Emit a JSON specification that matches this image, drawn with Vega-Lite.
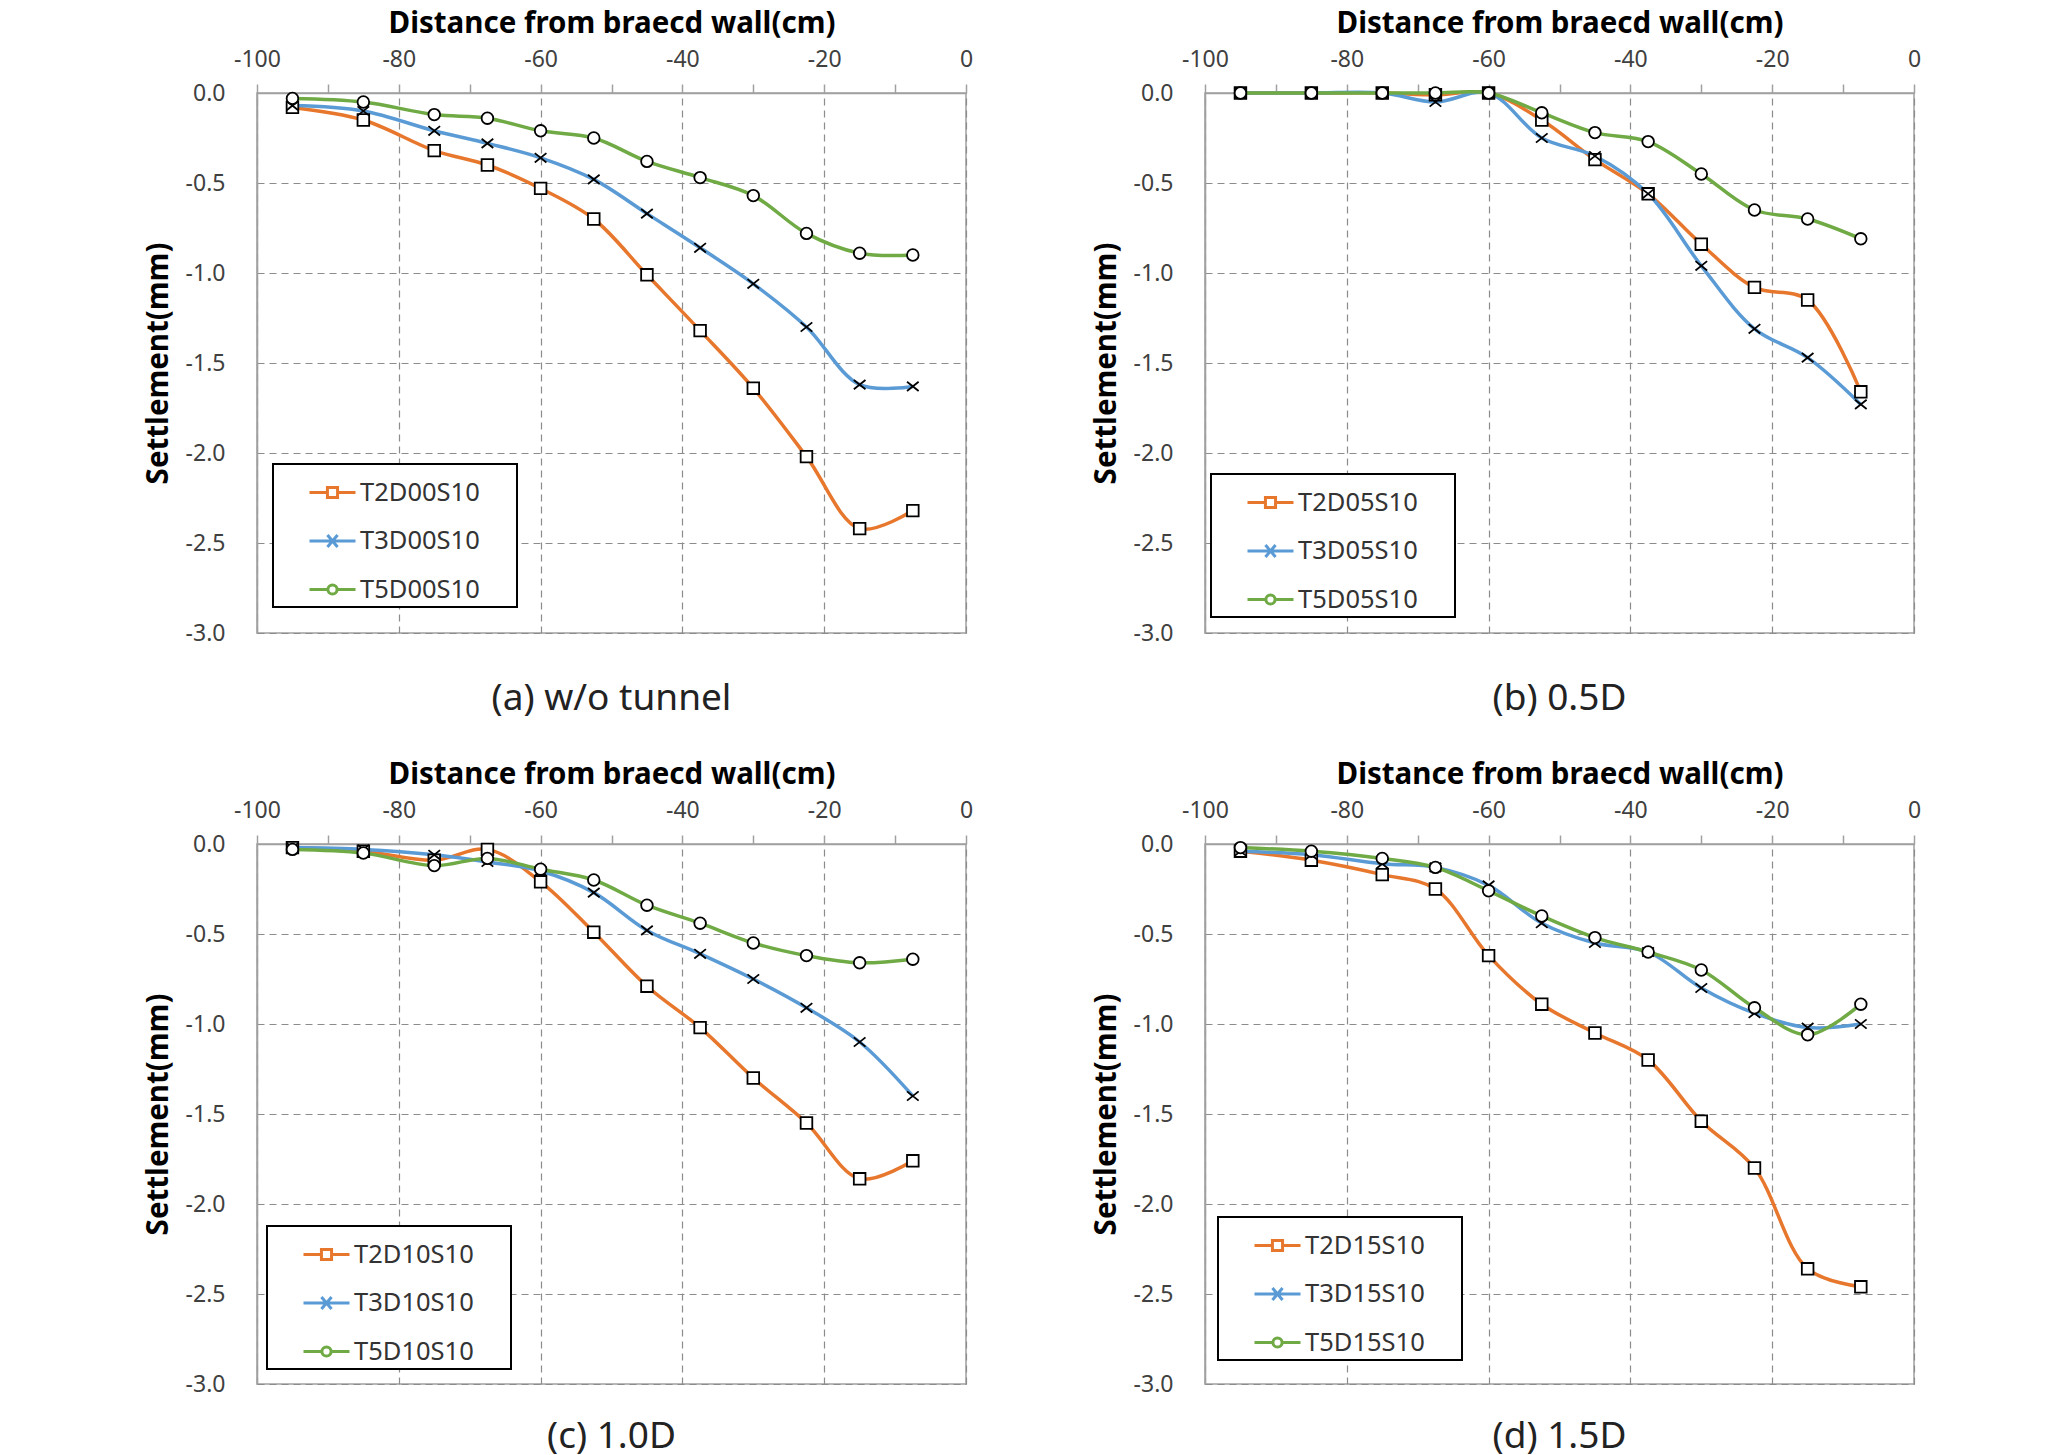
{
  "$schema": "https://vega.github.io/schema/vega-lite/v6.json",
  "padding": {"left": 142, "top": 7, "right": 5, "bottom": 5},
  "bounds": "flush",
  "columns": 2,
  "spacing": {"row": 211, "column": 239},
  "datasets": {
    "a": [
      {"Series": "T2D00S10", "Distance": -95, "Settlement": -0.08},
      {"Series": "T2D00S10", "Distance": -85, "Settlement": -0.15},
      {"Series": "T2D00S10", "Distance": -75, "Settlement": -0.32},
      {"Series": "T2D00S10", "Distance": -67.5, "Settlement": -0.40},
      {"Series": "T2D00S10", "Distance": -60, "Settlement": -0.53},
      {"Series": "T2D00S10", "Distance": -52.5, "Settlement": -0.70},
      {"Series": "T2D00S10", "Distance": -45, "Settlement": -1.01},
      {"Series": "T2D00S10", "Distance": -37.5, "Settlement": -1.32},
      {"Series": "T2D00S10", "Distance": -30, "Settlement": -1.64},
      {"Series": "T2D00S10", "Distance": -22.5, "Settlement": -2.02},
      {"Series": "T2D00S10", "Distance": -15, "Settlement": -2.42},
      {"Series": "T2D00S10", "Distance": -7.5, "Settlement": -2.32},
      {"Series": "T3D00S10", "Distance": -95, "Settlement": -0.07},
      {"Series": "T3D00S10", "Distance": -85, "Settlement": -0.10},
      {"Series": "T3D00S10", "Distance": -75, "Settlement": -0.21},
      {"Series": "T3D00S10", "Distance": -67.5, "Settlement": -0.28},
      {"Series": "T3D00S10", "Distance": -60, "Settlement": -0.36},
      {"Series": "T3D00S10", "Distance": -52.5, "Settlement": -0.48},
      {"Series": "T3D00S10", "Distance": -45, "Settlement": -0.67},
      {"Series": "T3D00S10", "Distance": -37.5, "Settlement": -0.86},
      {"Series": "T3D00S10", "Distance": -30, "Settlement": -1.06},
      {"Series": "T3D00S10", "Distance": -22.5, "Settlement": -1.30},
      {"Series": "T3D00S10", "Distance": -15, "Settlement": -1.62},
      {"Series": "T3D00S10", "Distance": -7.5, "Settlement": -1.63},
      {"Series": "T5D00S10", "Distance": -95, "Settlement": -0.03},
      {"Series": "T5D00S10", "Distance": -85, "Settlement": -0.05},
      {"Series": "T5D00S10", "Distance": -75, "Settlement": -0.12},
      {"Series": "T5D00S10", "Distance": -67.5, "Settlement": -0.14},
      {"Series": "T5D00S10", "Distance": -60, "Settlement": -0.21},
      {"Series": "T5D00S10", "Distance": -52.5, "Settlement": -0.25},
      {"Series": "T5D00S10", "Distance": -45, "Settlement": -0.38},
      {"Series": "T5D00S10", "Distance": -37.5, "Settlement": -0.47},
      {"Series": "T5D00S10", "Distance": -30, "Settlement": -0.57},
      {"Series": "T5D00S10", "Distance": -22.5, "Settlement": -0.78},
      {"Series": "T5D00S10", "Distance": -15, "Settlement": -0.89},
      {"Series": "T5D00S10", "Distance": -7.5, "Settlement": -0.90}
    ],
    "b": [
      {"Series": "T2D05S10", "Distance": -95, "Settlement": 0},
      {"Series": "T2D05S10", "Distance": -85, "Settlement": 0},
      {"Series": "T2D05S10", "Distance": -75, "Settlement": 0},
      {"Series": "T2D05S10", "Distance": -67.5, "Settlement": -0.01},
      {"Series": "T2D05S10", "Distance": -60, "Settlement": 0},
      {"Series": "T2D05S10", "Distance": -52.5, "Settlement": -0.15},
      {"Series": "T2D05S10", "Distance": -45, "Settlement": -0.37},
      {"Series": "T2D05S10", "Distance": -37.5, "Settlement": -0.56},
      {"Series": "T2D05S10", "Distance": -30, "Settlement": -0.84},
      {"Series": "T2D05S10", "Distance": -22.5, "Settlement": -1.08},
      {"Series": "T2D05S10", "Distance": -15, "Settlement": -1.15},
      {"Series": "T2D05S10", "Distance": -7.5, "Settlement": -1.66},
      {"Series": "T3D05S10", "Distance": -95, "Settlement": 0},
      {"Series": "T3D05S10", "Distance": -85, "Settlement": 0},
      {"Series": "T3D05S10", "Distance": -75, "Settlement": 0},
      {"Series": "T3D05S10", "Distance": -67.5, "Settlement": -0.05},
      {"Series": "T3D05S10", "Distance": -60, "Settlement": 0},
      {"Series": "T3D05S10", "Distance": -52.5, "Settlement": -0.25},
      {"Series": "T3D05S10", "Distance": -45, "Settlement": -0.35},
      {"Series": "T3D05S10", "Distance": -37.5, "Settlement": -0.56},
      {"Series": "T3D05S10", "Distance": -30, "Settlement": -0.96},
      {"Series": "T3D05S10", "Distance": -22.5, "Settlement": -1.31},
      {"Series": "T3D05S10", "Distance": -15, "Settlement": -1.47},
      {"Series": "T3D05S10", "Distance": -7.5, "Settlement": -1.73},
      {"Series": "T5D05S10", "Distance": -95, "Settlement": 0},
      {"Series": "T5D05S10", "Distance": -85, "Settlement": 0},
      {"Series": "T5D05S10", "Distance": -75, "Settlement": 0},
      {"Series": "T5D05S10", "Distance": -67.5, "Settlement": 0},
      {"Series": "T5D05S10", "Distance": -60, "Settlement": 0},
      {"Series": "T5D05S10", "Distance": -52.5, "Settlement": -0.11},
      {"Series": "T5D05S10", "Distance": -45, "Settlement": -0.22},
      {"Series": "T5D05S10", "Distance": -37.5, "Settlement": -0.27},
      {"Series": "T5D05S10", "Distance": -30, "Settlement": -0.45},
      {"Series": "T5D05S10", "Distance": -22.5, "Settlement": -0.65},
      {"Series": "T5D05S10", "Distance": -15, "Settlement": -0.70},
      {"Series": "T5D05S10", "Distance": -7.5, "Settlement": -0.81}
    ],
    "c": [
      {"Series": "T2D10S10", "Distance": -95, "Settlement": -0.02},
      {"Series": "T2D10S10", "Distance": -85, "Settlement": -0.04},
      {"Series": "T2D10S10", "Distance": -75, "Settlement": -0.09},
      {"Series": "T2D10S10", "Distance": -67.5, "Settlement": -0.03},
      {"Series": "T2D10S10", "Distance": -60, "Settlement": -0.21},
      {"Series": "T2D10S10", "Distance": -52.5, "Settlement": -0.49},
      {"Series": "T2D10S10", "Distance": -45, "Settlement": -0.79},
      {"Series": "T2D10S10", "Distance": -37.5, "Settlement": -1.02},
      {"Series": "T2D10S10", "Distance": -30, "Settlement": -1.30},
      {"Series": "T2D10S10", "Distance": -22.5, "Settlement": -1.55},
      {"Series": "T2D10S10", "Distance": -15, "Settlement": -1.86},
      {"Series": "T2D10S10", "Distance": -7.5, "Settlement": -1.76},
      {"Series": "T3D10S10", "Distance": -95, "Settlement": -0.02},
      {"Series": "T3D10S10", "Distance": -85, "Settlement": -0.03},
      {"Series": "T3D10S10", "Distance": -75, "Settlement": -0.06},
      {"Series": "T3D10S10", "Distance": -67.5, "Settlement": -0.10},
      {"Series": "T3D10S10", "Distance": -60, "Settlement": -0.15},
      {"Series": "T3D10S10", "Distance": -52.5, "Settlement": -0.27},
      {"Series": "T3D10S10", "Distance": -45, "Settlement": -0.48},
      {"Series": "T3D10S10", "Distance": -37.5, "Settlement": -0.61},
      {"Series": "T3D10S10", "Distance": -30, "Settlement": -0.75},
      {"Series": "T3D10S10", "Distance": -22.5, "Settlement": -0.91},
      {"Series": "T3D10S10", "Distance": -15, "Settlement": -1.10},
      {"Series": "T3D10S10", "Distance": -7.5, "Settlement": -1.40},
      {"Series": "T5D10S10", "Distance": -95, "Settlement": -0.03},
      {"Series": "T5D10S10", "Distance": -85, "Settlement": -0.05},
      {"Series": "T5D10S10", "Distance": -75, "Settlement": -0.12},
      {"Series": "T5D10S10", "Distance": -67.5, "Settlement": -0.08},
      {"Series": "T5D10S10", "Distance": -60, "Settlement": -0.14},
      {"Series": "T5D10S10", "Distance": -52.5, "Settlement": -0.20},
      {"Series": "T5D10S10", "Distance": -45, "Settlement": -0.34},
      {"Series": "T5D10S10", "Distance": -37.5, "Settlement": -0.44},
      {"Series": "T5D10S10", "Distance": -30, "Settlement": -0.55},
      {"Series": "T5D10S10", "Distance": -22.5, "Settlement": -0.62},
      {"Series": "T5D10S10", "Distance": -15, "Settlement": -0.66},
      {"Series": "T5D10S10", "Distance": -7.5, "Settlement": -0.64}
    ],
    "d": [
      {"Series": "T2D15S10", "Distance": -95, "Settlement": -0.04},
      {"Series": "T2D15S10", "Distance": -85, "Settlement": -0.09},
      {"Series": "T2D15S10", "Distance": -75, "Settlement": -0.17},
      {"Series": "T2D15S10", "Distance": -67.5, "Settlement": -0.25},
      {"Series": "T2D15S10", "Distance": -60, "Settlement": -0.62},
      {"Series": "T2D15S10", "Distance": -52.5, "Settlement": -0.89},
      {"Series": "T2D15S10", "Distance": -45, "Settlement": -1.05},
      {"Series": "T2D15S10", "Distance": -37.5, "Settlement": -1.20},
      {"Series": "T2D15S10", "Distance": -30, "Settlement": -1.54},
      {"Series": "T2D15S10", "Distance": -22.5, "Settlement": -1.80},
      {"Series": "T2D15S10", "Distance": -15, "Settlement": -2.36},
      {"Series": "T2D15S10", "Distance": -7.5, "Settlement": -2.46},
      {"Series": "T3D15S10", "Distance": -95, "Settlement": -0.04},
      {"Series": "T3D15S10", "Distance": -85, "Settlement": -0.06},
      {"Series": "T3D15S10", "Distance": -75, "Settlement": -0.11},
      {"Series": "T3D15S10", "Distance": -67.5, "Settlement": -0.13},
      {"Series": "T3D15S10", "Distance": -60, "Settlement": -0.23},
      {"Series": "T3D15S10", "Distance": -52.5, "Settlement": -0.44},
      {"Series": "T3D15S10", "Distance": -45, "Settlement": -0.55},
      {"Series": "T3D15S10", "Distance": -37.5, "Settlement": -0.60},
      {"Series": "T3D15S10", "Distance": -30, "Settlement": -0.80},
      {"Series": "T3D15S10", "Distance": -22.5, "Settlement": -0.94},
      {"Series": "T3D15S10", "Distance": -15, "Settlement": -1.02},
      {"Series": "T3D15S10", "Distance": -7.5, "Settlement": -1.00},
      {"Series": "T5D15S10", "Distance": -95, "Settlement": -0.02},
      {"Series": "T5D15S10", "Distance": -85, "Settlement": -0.04},
      {"Series": "T5D15S10", "Distance": -75, "Settlement": -0.08},
      {"Series": "T5D15S10", "Distance": -67.5, "Settlement": -0.13},
      {"Series": "T5D15S10", "Distance": -60, "Settlement": -0.26},
      {"Series": "T5D15S10", "Distance": -52.5, "Settlement": -0.40},
      {"Series": "T5D15S10", "Distance": -45, "Settlement": -0.52},
      {"Series": "T5D15S10", "Distance": -37.5, "Settlement": -0.60},
      {"Series": "T5D15S10", "Distance": -30, "Settlement": -0.70},
      {"Series": "T5D15S10", "Distance": -22.5, "Settlement": -0.91},
      {"Series": "T5D15S10", "Distance": -15, "Settlement": -1.06},
      {"Series": "T5D15S10", "Distance": -7.5, "Settlement": -0.89}
    ]
  },
  "concat": [
    {
      "width": 709,
      "height": 540,
      "title": {"text": "(a) w/o tunnel", "offset": 36},
      "data": {"name": "a"},
      "encoding": {
        "x": {
          "field": "Distance",
          "type": "quantitative",
          "title": "Distance from braecd wall(cm)",
          "scale": {"domain": [-100, 0], "nice": false, "zero": false},
          "axis": {
            "orient": "top",
            "values": [-100, -90, -80, -70, -60, -50, -40, -30, -20, -10, 0],
            "labelExpr": "datum.value % 20 === 0 ? (datum.value < 0 ? '-' + abs(datum.value) : '0') : ''",
            "gridOpacity": {"condition": {"test": "datum.value % 20 === 0", "value": 1}, "value": 0}
          }
        },
        "y": {
          "field": "Settlement",
          "type": "quantitative",
          "title": "Settlement(mm)",
          "scale": {"domain": [-3, 0], "nice": false},
          "axis": {
            "values": [-3, -2.5, -2, -1.5, -1, -0.5, 0],
            "labelExpr": "datum.value < 0 ? '-' + format(abs(datum.value), '.1f') : '0.0'"
          }
        }
      },
      "layer": [
        {
          "mark": {"type": "line", "interpolate": "catmull-rom", "strokeWidth": 3.5},
          "encoding": {
            "color": {
              "field": "Series",
              "type": "nominal",
              "scale": {"range": ["#E8772E", "#5B9BD5", "#6FAA45"]},
              "legend": {
                "legendX": 16,
                "legendY": 371,
                "labelExpr": "datum.label + '\u00a0\u00a0\u00a0\u00a0\u00a0\u200b'",
                "encode": {
                  "symbols": {
                    "update": {
                      "shape": {"signal": "indexof(datum.value, 'T2') === 0 ? 'M-1,0H-0.22M0.22,0H1M-0.22,-0.22H0.22V0.22H-0.22Z' : indexof(datum.value, 'T3') === 0 ? 'M-1,0H1M-0.22,-0.26L0.22,0.26M0.22,-0.26L-0.22,0.26' : 'M-1,0H-0.2M0.2,0H1M0.2,0A0.2,0.2 0 1,1 -0.2,0A0.2,0.2 0 1,1 0.2,0'"},
                      "fill": {"value": "white"}
                    }
                  },
                  "legend": {"update": {"strokeWidth": {"value": 2}}}
                }
              }
            }
          }
        },
        {
          "mark": {"type": "point", "filled": true, "fill": "white", "stroke": "black", "strokeWidth": 1.8, "opacity": 1, "size": 135},
          "encoding": {
            "shape": {
              "field": "Series",
              "type": "nominal",
              "scale": {"range": ["square", "M-1,-0.8L1,0.8M1,-0.8L-1,0.8", "circle"]},
              "legend": null
            }
          }
        }
      ]
    },
    {
      "width": 709,
      "height": 540,
      "title": {"text": "(b) 0.5D", "offset": 36},
      "data": {"name": "b"},
      "encoding": {
        "x": {
          "field": "Distance",
          "type": "quantitative",
          "title": "Distance from braecd wall(cm)",
          "scale": {"domain": [-100, 0], "nice": false, "zero": false},
          "axis": {
            "orient": "top",
            "values": [-100, -90, -80, -70, -60, -50, -40, -30, -20, -10, 0],
            "labelExpr": "datum.value % 20 === 0 ? (datum.value < 0 ? '-' + abs(datum.value) : '0') : ''",
            "gridOpacity": {"condition": {"test": "datum.value % 20 === 0", "value": 1}, "value": 0}
          }
        },
        "y": {
          "field": "Settlement",
          "type": "quantitative",
          "title": "Settlement(mm)",
          "scale": {"domain": [-3, 0], "nice": false},
          "axis": {
            "values": [-3, -2.5, -2, -1.5, -1, -0.5, 0],
            "labelExpr": "datum.value < 0 ? '-' + format(abs(datum.value), '.1f') : '0.0'"
          }
        }
      },
      "layer": [
        {
          "mark": {"type": "line", "interpolate": "catmull-rom", "strokeWidth": 3.5},
          "encoding": {
            "color": {
              "field": "Series",
              "type": "nominal",
              "scale": {"range": ["#E8772E", "#5B9BD5", "#6FAA45"]},
              "legend": {
                "legendX": 6,
                "legendY": 381,
                "labelExpr": "datum.label + '\u00a0\u00a0\u00a0\u00a0\u00a0\u200b'",
                "encode": {
                  "symbols": {
                    "update": {
                      "shape": {"signal": "indexof(datum.value, 'T2') === 0 ? 'M-1,0H-0.22M0.22,0H1M-0.22,-0.22H0.22V0.22H-0.22Z' : indexof(datum.value, 'T3') === 0 ? 'M-1,0H1M-0.22,-0.26L0.22,0.26M0.22,-0.26L-0.22,0.26' : 'M-1,0H-0.2M0.2,0H1M0.2,0A0.2,0.2 0 1,1 -0.2,0A0.2,0.2 0 1,1 0.2,0'"},
                      "fill": {"value": "white"}
                    }
                  },
                  "legend": {"update": {"strokeWidth": {"value": 2}}}
                }
              }
            }
          }
        },
        {
          "mark": {"type": "point", "filled": true, "fill": "white", "stroke": "black", "strokeWidth": 1.8, "opacity": 1, "size": 135},
          "encoding": {
            "shape": {
              "field": "Series",
              "type": "nominal",
              "scale": {"range": ["square", "M-1,-0.8L1,0.8M1,-0.8L-1,0.8", "circle"]},
              "legend": null
            }
          }
        }
      ]
    },
    {
      "width": 709,
      "height": 540,
      "title": {"text": "(c) 1.0D", "offset": 23},
      "data": {"name": "c"},
      "encoding": {
        "x": {
          "field": "Distance",
          "type": "quantitative",
          "title": "Distance from braecd wall(cm)",
          "scale": {"domain": [-100, 0], "nice": false, "zero": false},
          "axis": {
            "orient": "top",
            "values": [-100, -90, -80, -70, -60, -50, -40, -30, -20, -10, 0],
            "labelExpr": "datum.value % 20 === 0 ? (datum.value < 0 ? '-' + abs(datum.value) : '0') : ''",
            "gridOpacity": {"condition": {"test": "datum.value % 20 === 0", "value": 1}, "value": 0}
          }
        },
        "y": {
          "field": "Settlement",
          "type": "quantitative",
          "title": "Settlement(mm)",
          "scale": {"domain": [-3, 0], "nice": false},
          "axis": {
            "values": [-3, -2.5, -2, -1.5, -1, -0.5, 0],
            "labelExpr": "datum.value < 0 ? '-' + format(abs(datum.value), '.1f') : '0.0'"
          }
        }
      },
      "layer": [
        {
          "mark": {"type": "line", "interpolate": "catmull-rom", "strokeWidth": 3.5},
          "encoding": {
            "color": {
              "field": "Series",
              "type": "nominal",
              "scale": {"range": ["#E8772E", "#5B9BD5", "#6FAA45"]},
              "legend": {
                "legendX": 10,
                "legendY": 382,
                "labelExpr": "datum.label + '\u00a0\u00a0\u00a0\u00a0\u00a0\u200b'",
                "encode": {
                  "symbols": {
                    "update": {
                      "shape": {"signal": "indexof(datum.value, 'T2') === 0 ? 'M-1,0H-0.22M0.22,0H1M-0.22,-0.22H0.22V0.22H-0.22Z' : indexof(datum.value, 'T3') === 0 ? 'M-1,0H1M-0.22,-0.26L0.22,0.26M0.22,-0.26L-0.22,0.26' : 'M-1,0H-0.2M0.2,0H1M0.2,0A0.2,0.2 0 1,1 -0.2,0A0.2,0.2 0 1,1 0.2,0'"},
                      "fill": {"value": "white"}
                    }
                  },
                  "legend": {"update": {"strokeWidth": {"value": 2}}}
                }
              }
            }
          }
        },
        {
          "mark": {"type": "point", "filled": true, "fill": "white", "stroke": "black", "strokeWidth": 1.8, "opacity": 1, "size": 135},
          "encoding": {
            "shape": {
              "field": "Series",
              "type": "nominal",
              "scale": {"range": ["square", "M-1,-0.8L1,0.8M1,-0.8L-1,0.8", "circle"]},
              "legend": null
            }
          }
        }
      ]
    },
    {
      "width": 709,
      "height": 540,
      "title": {"text": "(d) 1.5D", "offset": 23},
      "data": {"name": "d"},
      "encoding": {
        "x": {
          "field": "Distance",
          "type": "quantitative",
          "title": "Distance from braecd wall(cm)",
          "scale": {"domain": [-100, 0], "nice": false, "zero": false},
          "axis": {
            "orient": "top",
            "values": [-100, -90, -80, -70, -60, -50, -40, -30, -20, -10, 0],
            "labelExpr": "datum.value % 20 === 0 ? (datum.value < 0 ? '-' + abs(datum.value) : '0') : ''",
            "gridOpacity": {"condition": {"test": "datum.value % 20 === 0", "value": 1}, "value": 0}
          }
        },
        "y": {
          "field": "Settlement",
          "type": "quantitative",
          "title": "Settlement(mm)",
          "scale": {"domain": [-3, 0], "nice": false},
          "axis": {
            "values": [-3, -2.5, -2, -1.5, -1, -0.5, 0],
            "labelExpr": "datum.value < 0 ? '-' + format(abs(datum.value), '.1f') : '0.0'"
          }
        }
      },
      "layer": [
        {
          "mark": {"type": "line", "interpolate": "catmull-rom", "strokeWidth": 3.5},
          "encoding": {
            "color": {
              "field": "Series",
              "type": "nominal",
              "scale": {"range": ["#E8772E", "#5B9BD5", "#6FAA45"]},
              "legend": {
                "legendX": 13,
                "legendY": 373,
                "labelExpr": "datum.label + '\u00a0\u00a0\u00a0\u00a0\u00a0\u200b'",
                "encode": {
                  "symbols": {
                    "update": {
                      "shape": {"signal": "indexof(datum.value, 'T2') === 0 ? 'M-1,0H-0.22M0.22,0H1M-0.22,-0.22H0.22V0.22H-0.22Z' : indexof(datum.value, 'T3') === 0 ? 'M-1,0H1M-0.22,-0.26L0.22,0.26M0.22,-0.26L-0.22,0.26' : 'M-1,0H-0.2M0.2,0H1M0.2,0A0.2,0.2 0 1,1 -0.2,0A0.2,0.2 0 1,1 0.2,0'"},
                      "fill": {"value": "white"}
                    }
                  },
                  "legend": {"update": {"strokeWidth": {"value": 2}}}
                }
              }
            }
          }
        },
        {
          "mark": {"type": "point", "filled": true, "fill": "white", "stroke": "black", "strokeWidth": 1.8, "opacity": 1, "size": 135},
          "encoding": {
            "shape": {
              "field": "Series",
              "type": "nominal",
              "scale": {"range": ["square", "M-1,-0.8L1,0.8M1,-0.8L-1,0.8", "circle"]},
              "legend": null
            }
          }
        }
      ]
    }
  ],
  "resolve": {
    "scale": {"color": "independent", "shape": "independent"},
    "legend": {"color": "independent", "shape": "independent"}
  },
  "config": {
    "font": "Noto Sans",
    "view": {"stroke": "#a0a0a0", "strokeWidth": 1.5},
    "axis": {
      "labelFont": "Noto Sans",
      "labelFontSize": 23,
      "labelColor": "#404040",
      "labelFlush": false,
      "labelOverlap": false,
      "titleFont": "Noto Sans",
      "titleFontSize": 29.5,
      "titleFontWeight": "bold",
      "titleColor": "#000000",
      "domainColor": "#a0a0a0",
      "domainWidth": 1.5,
      "gridColor": "#8c8c8c",
      "gridDash": [7, 5],
      "gridWidth": 1.2,
      "tickColor": "#a0a0a0",
      "tickWidth": 1.5
    },
    "axisX": {"tickSize": 9, "labelPadding": 13, "titlePadding": 10},
    "axisY": {"ticks": false, "labelPadding": 32, "titlePadding": 12},
    "title": {
      "orient": "bottom",
      "anchor": "middle",
      "font": "Noto Sans",
      "fontSize": 37,
      "fontWeight": "normal",
      "color": "#222222"
    },
    "legend": {
      "orient": "none",
      "title": null,
      "padding": 4,
      "strokeColor": "#000000",
      "fillColor": "#ffffff",
      "labelFont": "Noto Sans",
      "labelFontSize": 25.5,
      "labelColor": "#333333",
      "symbolSize": 2116,
      "symbolStrokeWidth": 3,
      "symbolOffset": 31,
      "labelOffset": 3,
      "rowPadding": 10.5
    }
  }
}
